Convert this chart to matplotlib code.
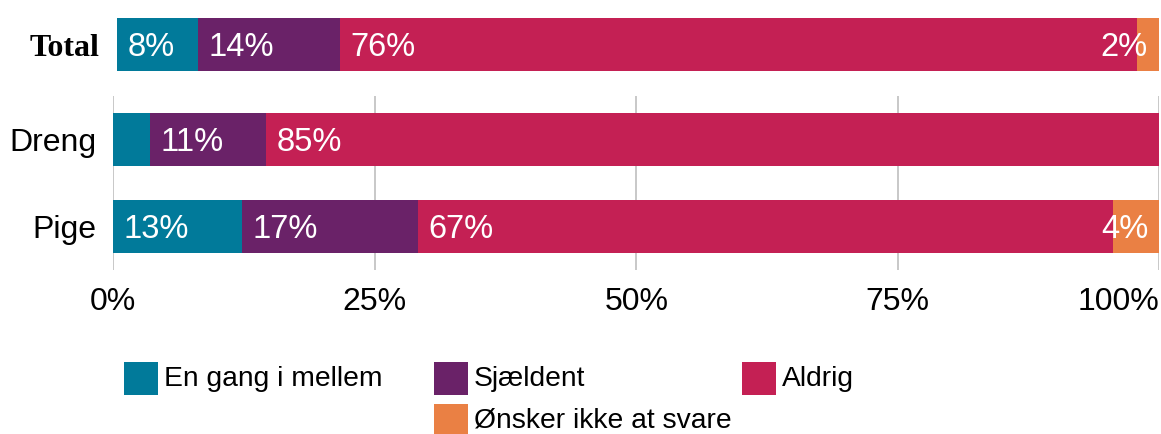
import matplotlib
matplotlib.use("Agg")
import matplotlib.pyplot as plt
from matplotlib.patches import Rectangle

# ---- data ----
series = ["En gang i mellem", "Sjældent", "Aldrig", "Ønsker ikke at svare"]
colors = ["#017A9A", "#6A2268", "#C42054", "#EA8044"]

total_values = [7.8, 13.6, 76.5, 2.1]
total_labels = ["8%", "14%", "76%", "2%"]

groups = ["Pige", "Dreng"]
group_values = [
    [12.3, 16.8, 66.5, 4.4],   # Pige
    [3.5, 11.1, 85.4, 0.0],    # Dreng
]
group_labels = [
    ["13%", "17%", "67%", "4%"],
    ["", "11%", "85%", ""],
]

xticks = [0, 25, 50, 75, 100]
xticklabels = ["0%", "25%", "50%", "75%", "100%"]

# ---- figure ----
W, H = 1161, 434
fig = plt.figure(figsize=(W / 100, H / 100), dpi=100)
plt.rcParams["font.family"] = ["Liberation Sans", "DejaVu Sans"]


def fr(x0, y0, x1, y1):
    return [x0 / W, 1 - y1 / H, (x1 - x0) / W, (y1 - y0) / H]


BAR_H = 0.612
FS_BAR = 23.5
FS_TICK = 23


def draw_stack(ax, ypos, values, labels):
    left = 0
    n = len(values)
    for i, (v, lab, c) in enumerate(zip(values, labels, colors)):
        if v > 0:
            ax.barh(ypos, v, left=left, height=BAR_H, color=c, zorder=3, linewidth=0)
        if lab:
            if i == n - 1:
                ax.annotate(lab, xy=(100, ypos), xytext=(-8, -2), textcoords="offset points",
                            ha="right", va="center", color="white", fontsize=FS_BAR, zorder=4)
            else:
                ax.annotate(lab, xy=(left, ypos), xytext=(7.5, -2), textcoords="offset points",
                            ha="left", va="center", color="white", fontsize=FS_BAR, zorder=4)
        left += v


# Total axes
axt = fig.add_axes(fr(117, 1.2, 1159, 87.8))
axt.set_xlim(0, 100)
axt.set_ylim(-0.5, 0.5)
draw_stack(axt, 0, total_values, total_labels)
axt.set_yticks([0])
axt.set_yticklabels(["Total"], family="Liberation Serif", fontweight="bold", fontsize=23)
axt.tick_params(axis="y", length=0, pad=13)
axt.set_xticks([])
for s in axt.spines.values():
    s.set_visible(False)

# Group axes
ax = fig.add_axes(fr(113.3, 96.4, 1159.3, 269.6))
ax.set_xlim(0, 100)
ax.set_ylim(-0.5, 1.5)
for yi, (vals, labs) in enumerate(zip(group_values, group_labels)):
    draw_stack(ax, yi, vals, labs)
ax.set_yticks(range(len(groups)))
ax.set_yticklabels(groups, fontsize=FS_TICK)
ax.set_xticks(xticks)
ax.set_xticklabels(xticklabels, fontsize=FS_TICK)
ax.get_xticklabels()[-1].set_horizontalalignment("right")
ax.tick_params(axis="both", length=0)
ax.tick_params(axis="y", pad=12)
ax.tick_params(axis="x", pad=12.5)
ax.grid(axis="x", color="#C4C4C4", linewidth=1.3, zorder=0)
ax.set_axisbelow(True)
for s in ax.spines.values():
    s.set_visible(False)

# Legend (manual, fixed column widths)
legend_pos = [(124, 362), (434, 362), (742, 362), (434, 404)]
for (px, py), name, c in zip(legend_pos, series, colors):
    fig.add_artist(Rectangle((px / W, 1 - (py + 33) / H), 34 / W, 33 / H,
                             transform=fig.transFigure, color=c, linewidth=0))
    fig.text((px + 40) / W, 1 - (py + 17) / H, name, fontsize=20.3,
             ha="left", va="center", color="black")

fig.savefig("out.png", dpi=100)
